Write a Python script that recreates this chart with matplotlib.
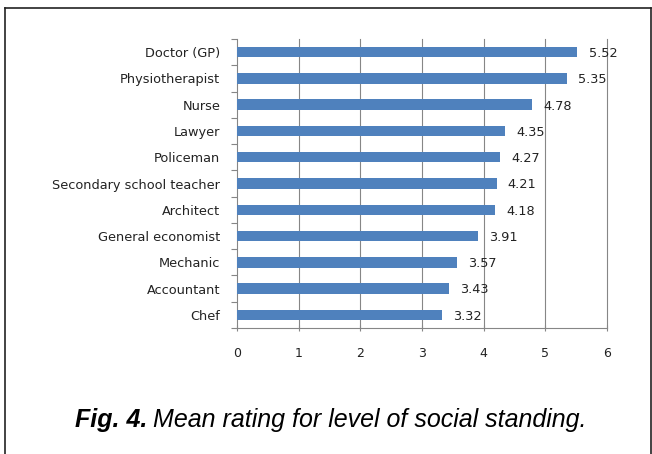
import matplotlib.pyplot as plt
from matplotlib.lines import Line2D

occupations = ['Doctor (GP)', 'Physiotherapist', 'Nurse', 'Lawyer', 'Policeman',
               'Secondary school teacher', 'Architect', 'General economist',
               'Mechanic', 'Accountant', 'Chef']
ratings = [5.52, 5.35, 4.78, 4.35, 4.27, 4.21, 4.18, 3.91, 3.57, 3.43, 3.32]
x_ticks = [0, 1, 2, 3, 4, 5, 6]

bar_color = '#4f81bd'
grid_color = '#868686'
text_color = '#222222'

fig = plt.figure(figsize=(6.52, 4.54), dpi=100)
ax = fig.add_axes([237 / 652, 1 - 328 / 454, 370 / 652, 289 / 454])

# first category on top, like the Excel chart
pos = list(range(len(occupations)))[::-1]
ax.barh(pos, ratings, height=0.4, color=bar_color, zorder=3)

for p, v in zip(pos, ratings):
    ax.annotate(f'{v:.2f}', (v, p), xytext=(8, -1), textcoords='offset points',
                va='center', ha='left', fontsize=9.3, color=text_color)

ax.set_xlim(0, 6)
ax.set_ylim(-0.5, len(occupations) - 0.5)
ax.set_xticks(x_ticks)
for t in x_ticks[1:]:
    ax.axvline(t, color=grid_color, linewidth=0.8, zorder=0, clip_on=False)

# category labels between boundary ticks
ax.set_yticks([p - 0.5 for p in range(len(occupations) + 1)])
ax.set_yticklabels([])
ax.set_yticks(pos, minor=True)
ax.set_yticklabels(occupations, minor=True, fontsize=9.3, color=text_color)
ax.tick_params(axis='y', which='major', length=4, color=grid_color, direction='out')
ax.tick_params(axis='y', which='minor', length=0, pad=12)
ax.tick_params(axis='x', length=4, color=grid_color, direction='inout',
               labelsize=9, labelcolor=text_color, pad=12)

for side in ['top', 'right']:
    ax.spines[side].set_visible(False)
for side in ['left', 'bottom']:
    ax.spines[side].set_color(grid_color)
    ax.spines[side].set_linewidth(0.8)

# outer frame (bottom edge runs off the image)
top = 1 - 8 / 454
fig.add_artist(Line2D([5 / 652, 5 / 652], [0, top], color='#222222', linewidth=1.2))
fig.add_artist(Line2D([5 / 652, 650.5 / 652], [top, top], color='#222222', linewidth=1.2))
fig.add_artist(Line2D([650.5 / 652, 650.5 / 652], [0, top], color='#222222', linewidth=1.2))

# caption: bold italic label followed by italic text
cap1 = fig.text(75 / 652, 1 - 427 / 454, 'Fig. 4.', fontsize=18, fontweight='bold',
                fontstyle='italic', family='Liberation Sans', ha='left', va='baseline')
renderer = fig.canvas.get_renderer()
x_end = cap1.get_window_extent(renderer).x1
fig.text((x_end + 6) / 652, 1 - 427 / 454, 'Mean rating for level of social standing.',
         fontsize=18, fontstyle='italic', family='Liberation Sans', ha='left', va='baseline')

fig.savefig('out.png', dpi=100)
